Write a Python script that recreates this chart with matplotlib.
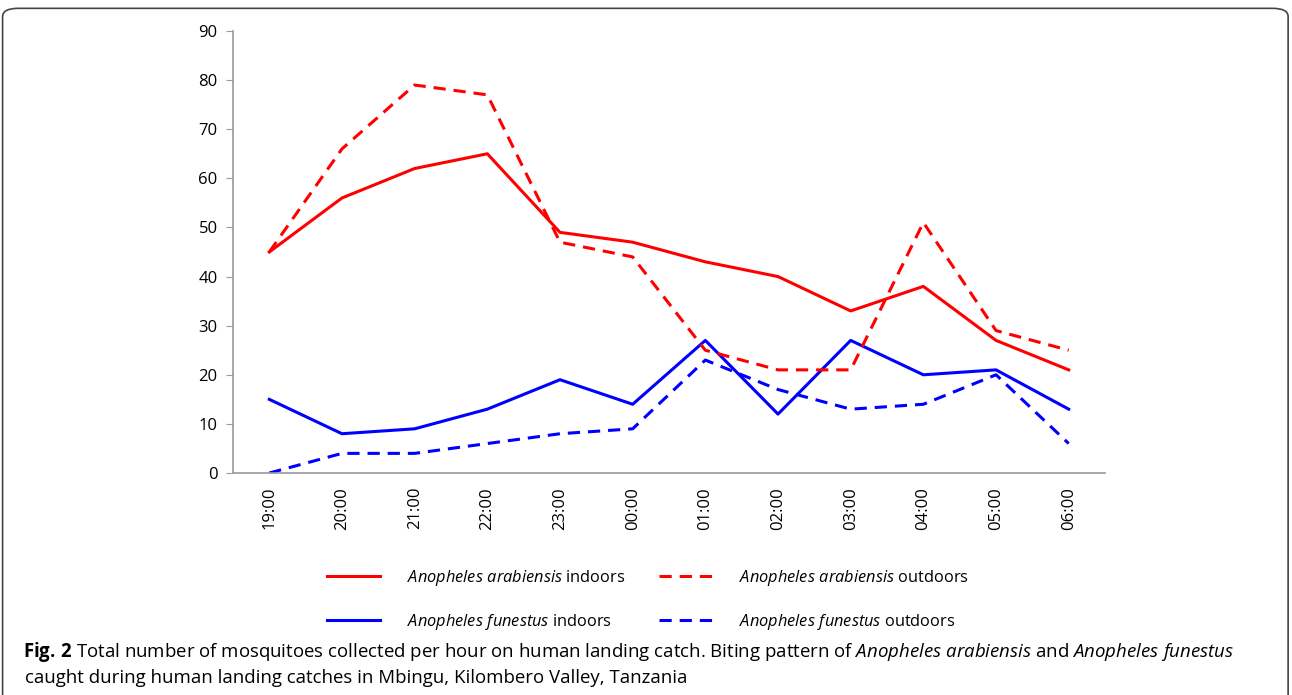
import matplotlib
matplotlib.use("Agg")
from matplotlib import pyplot as plt
from matplotlib.patches import FancyBboxPatch

hours = ["19:00", "20:00", "21:00", "22:00", "23:00", "00:00",
         "01:00", "02:00", "03:00", "04:00", "05:00", "06:00"]
arab_in = [45, 56, 62, 65, 49, 47, 43, 40, 33, 38, 27, 21]
arab_out = [45, 66, 79, 77, 47, 44, 25, 21, 21, 51, 29, 25]
fun_in = [15, 8, 9, 13, 19, 14, 27, 12, 27, 20, 21, 13]
fun_out = [0, 4, 4, 6, 8, 9, 23, 17, 13, 14, 20, 6]

plt.rcParams["font.family"] = ["Open Sans", "DejaVu Sans"]
plt.rcParams["mathtext.fontset"] = "custom"
plt.rcParams["mathtext.it"] = "Open Sans:italic"
plt.rcParams["mathtext.rm"] = "Open Sans"
plt.rcParams["mathtext.bf"] = "Open Sans:bold"

fig = plt.figure(figsize=(12.92, 6.95), dpi=100)
ax = fig.add_axes([0.1803, 0.3194, 0.675, 0.636])

x = range(len(hours))
dash = (0, (4, 2.6))
ax.plot(x, arab_in, color="#ff0000", lw=2.2, label=r"$\it{Anopheles\ arabiensis}$ indoors")
ax.plot(x, fun_in, color="#0000ff", lw=2.2, label=r"$\it{Anopheles\ funestus}$ indoors")
ax.plot(x, arab_out, color="#ff0000", lw=2.2, ls=dash, label=r"$\it{Anopheles\ arabiensis}$ outdoors")
ax.plot(x, fun_out, color="#0000ff", lw=2.2, ls=dash, label=r"$\it{Anopheles\ funestus}$ outdoors")

ax.set_xlim(-0.5, len(hours) - 0.5)
ax.set_ylim(0, 90)
ax.set_yticks(range(0, 91, 10))
ax.set_xticks(list(x))
ax.set_xticklabels(hours, rotation=90)
ax.tick_params(axis="x", length=0, pad=10, labelsize=12)
ax.tick_params(axis="y", length=5, color="#999999", labelsize=12, pad=6)
for s in ["top", "right"]:
    ax.spines[s].set_visible(False)
for s in ["left", "bottom"]:
    ax.spines[s].set_color("#999999")
    ax.spines[s].set_linewidth(1.2)

ax.legend(ncol=2, loc="upper center", bbox_to_anchor=(0.476, -0.182), frameon=False,
          fontsize=11.8, handlelength=3.2, handletextpad=1.65, columnspacing=2.1,
          labelspacing=1.45)

# caption
fig.text(0.018, 0.062, r"$\bf{Fig.\,2}$ Total number of mosquitoes collected per hour on human landing catch. "
         r"Biting pattern of $\it{Anopheles\ arabiensis}$ and $\it{Anopheles\ funestus}$",
         fontsize=13.4, va="center")
fig.text(0.019, 0.024, "caught during human landing catches in Mbingu, Kilombero Valley, Tanzania",
         fontsize=13.4, va="center")

frame = FancyBboxPatch((0.002, -0.05), 0.995, 1.038, boxstyle="round,pad=0,rounding_size=0.012",
                       transform=fig.transFigure, fill=False, ec="#444444", lw=1.2)
fig.patches.append(frame)

fig.savefig("out.png", dpi=100)
